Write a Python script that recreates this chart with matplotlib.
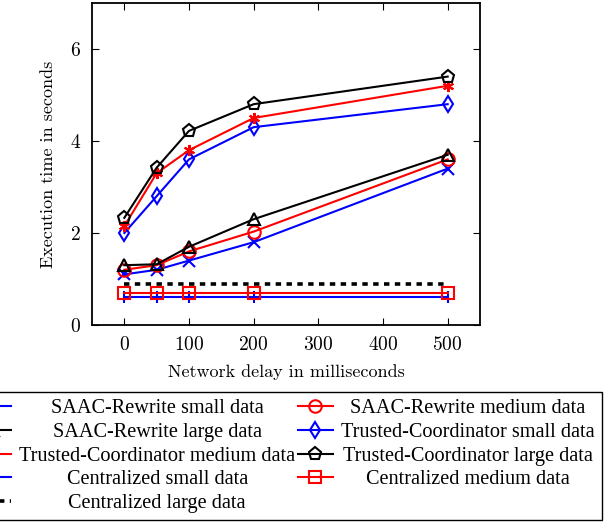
import matplotlib
matplotlib.use("Agg")
import matplotlib.pyplot as plt

plt.rcParams["axes.formatter.use_mathtext"] = True

# Data
delays = [0, 50, 100, 200, 500]
saac_small = [1.1, 1.2, 1.4, 1.8, 3.4]
saac_medium = [1.2, 1.3, 1.6, 2.03, 3.6]
saac_large = [1.3, 1.32, 1.7, 2.3, 3.7]
tc_small = [2.0, 2.8, 3.6, 4.3, 4.8]
tc_medium = [2.15, 3.3, 3.8, 4.5, 5.2]
tc_large = [2.33, 3.42, 4.22, 4.8, 5.4]
central_small = [0.6, 0.6, 0.6, 0.6, 0.6]
central_medium = [0.7, 0.7, 0.7, 0.7, 0.7]
central_large = [0.9, 0.9, 0.9, 0.9, 0.9]
x_ticks = [0, 100, 200, 300, 400, 500]
y_ticks = [0, 2, 4, 6]

fig = plt.figure(figsize=(6.08, 5.22), dpi=100)
ax = fig.add_axes([0.1513, 0.3774, 0.6382, 0.6169])

lw = 1.5
ms = 8
series = [
    (delays, saac_small, dict(color="blue", marker="x"), "SAAC-Rewrite small data"),
    (delays, saac_medium, dict(color="red", marker="o", markersize=9), "SAAC-Rewrite medium data"),
    (delays, saac_large, dict(color="black", marker="^"), "SAAC-Rewrite large data"),
    (delays, tc_small, dict(color="blue", marker="d"), "Trusted-Coordinator small data"),
    (delays, tc_medium, dict(color="red", marker=(6, 2, 0)), "Trusted-Coordinator medium data"),
    (delays, tc_large, dict(color="black", marker="p", markersize=9.5), "Trusted-Coordinator large data"),
    (delays, central_small, dict(color="blue", marker="|", markersize=9), "Centralized small data"),
    (delays, central_medium, dict(color="red", marker="s", markersize=9), "Centralized medium data"),
    (delays, central_large, dict(color="black", marker="", ls=(0, (1.5, 1.5)), lw=2.6), "Centralized large data"),
]
handles = []
for xs, ys, style, label in series:
    style.setdefault("markersize", ms)
    style.setdefault("lw", lw)
    style.setdefault("ls", "-")
    (h,) = ax.plot(xs, ys, mfc="none", mew=1.5, label=label, **style)
    handles.append(h)

ax.set_xlim(-50, 550)
ax.set_ylim(0, 7)
ax.set_xticks(x_ticks)
ax.set_yticks(y_ticks)
ax.tick_params(direction="in", top=True, right=True, length=5, width=0.8,
               labelsize=14, pad=8)
for lab in ax.get_xticklabels() + ax.get_yticklabels():
    lab.set_family("cmr10")
for sp in ax.spines.values():
    sp.set_linewidth(1.3)

ax.set_xlabel("Network delay in milliseconds", family="cmr10", fontsize=13, labelpad=7)
ax.set_ylabel("Execution time in seconds", family="cmr10", fontsize=13, labelpad=10)

# legend is filled row by row in the original
order = [0, 2, 4, 6, 8, 1, 3, 5, 7]
leg = fig.legend(handles=[handles[i] for i in order], loc="upper right", ncol=2,
                 bbox_to_anchor=(602 / 608, 1 - 392 / 522), borderaxespad=0,
                 prop={"family": "Liberation Serif", "size": 14.6},
                 fancybox=False, edgecolor="black", framealpha=1,
                 handlelength=1.75, handletextpad=0.4, columnspacing=0.12,
                 labelspacing=0.22, borderpad=0.35)
leg.get_frame().set_linewidth(1.0)

# centre each legend text within its column, like the original
fig.canvas.draw()
texts = leg.get_texts()
r = fig.canvas.get_renderer()
cols = [texts[:5], texts[5:]]
for col in cols:
    widths = [t.get_window_extent(r).width for t in col]
    wmax = max(widths)
    for t, w in zip(col, widths):
        t.set_x((wmax - w) / 2)

fig.savefig("out.png", dpi=100)
